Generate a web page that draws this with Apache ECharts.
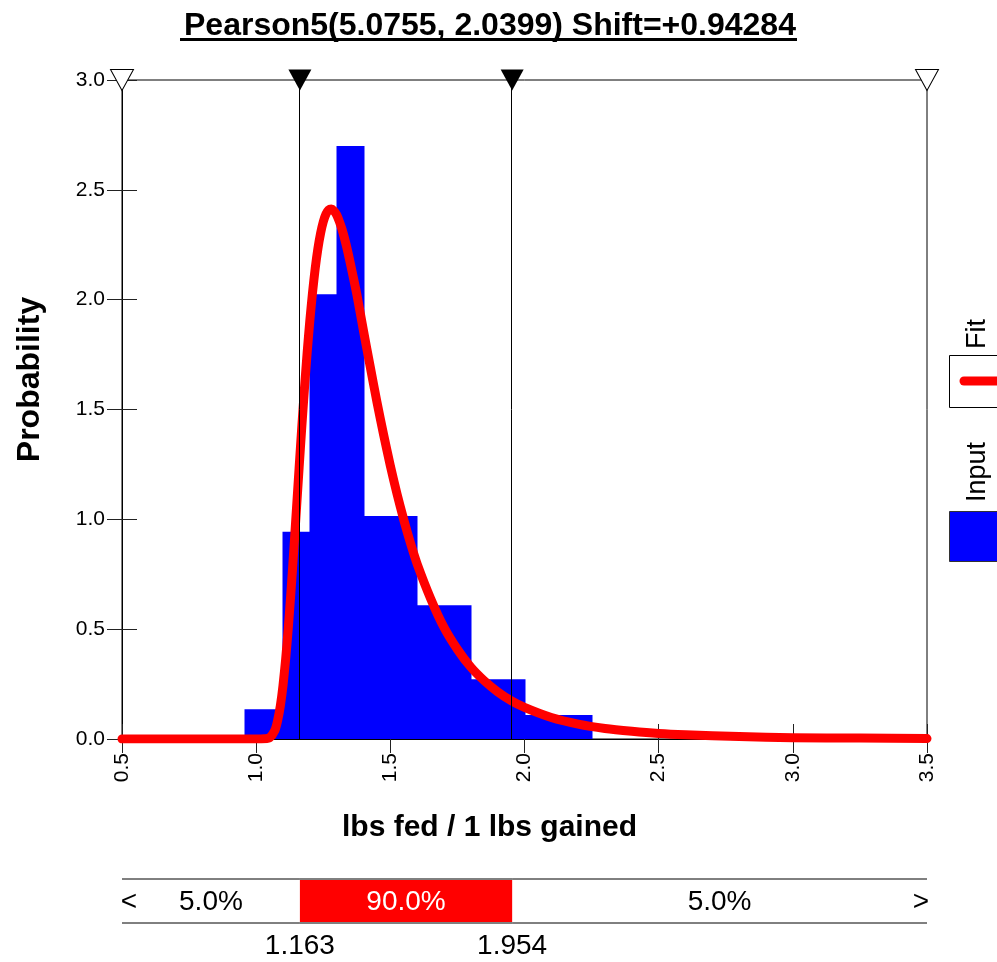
<!DOCTYPE html>
<html>
<head>
<meta charset="utf-8">
<title>Pearson5 fit</title>
<style>html,body{margin:0;padding:0;background:#fff}</style>
</head>
<body>
<div id="main" style="width:997px;height:962px"></div>
<script src="https://cdn.jsdelivr.net/npm/echarts@6/dist/echarts.min.js"></script>
<script>
var chart = echarts.init(document.getElementById('main'));

var FONT = "'Liberation Sans', Arial, sans-serif";

// histogram of the input data (variable width bins)
var binLeft   = [0.96, 1.10, 1.20, 1.30, 1.40, 1.60, 1.80, 2.00];
var binRight  = [1.10, 1.20, 1.30, 1.40, 1.60, 1.80, 2.00, 2.25];
var binHeight = [0.135, 0.944, 2.025, 2.699, 1.015, 0.609, 0.272, 0.109];

// fitted Pearson5 curve
var fitX = [0.5, 0.9, 1.0, 1.03, 1.05, 1.07, 1.08, 1.09, 1.10, 1.11, 1.12, 1.13, 1.14, 1.15, 1.16, 1.17, 1.18, 1.19,
            1.20, 1.21, 1.22, 1.23, 1.24, 1.25, 1.26, 1.27, 1.28, 1.29, 1.30, 1.31, 1.32, 1.335, 1.35, 1.375,
            1.40, 1.425, 1.45, 1.475, 1.50, 1.525, 1.55, 1.575, 1.60, 1.65, 1.70, 1.75, 1.80, 1.85, 1.90, 1.95,
            2.00, 2.10, 2.20, 2.30, 2.40, 2.50, 2.60, 2.80, 3.00, 3.25, 3.50];
var fitY = [0, 0, 0, 0.001, 0.006, 0.040, 0.084, 0.150, 0.244, 0.365, 0.510, 0.676, 0.856, 1.045, 1.234, 1.420, 1.596, 1.759,
            1.905, 2.032, 2.142, 2.232, 2.302, 2.354, 2.389, 2.408, 2.413, 2.404, 2.386, 2.356, 2.320, 2.252, 2.171, 2.025,
            1.858, 1.695, 1.535, 1.385, 1.244, 1.115, 0.998, 0.892, 0.797, 0.640, 0.508, 0.408, 0.327, 0.265, 0.215, 0.175,
            0.144, 0.098, 0.068, 0.048, 0.035, 0.025, 0.019, 0.011, 0.006, 0.004, 0.002];

// delimiters and the probability band under the chart
var markerX = [1.163, 1.954];
var axisMin = 0.5, axisMax = 3.5;
var bandPct = ['5.0%', '90.0%', '5.0%'];

var bins = binLeft.map(function (l, i) { return [l, binRight[i], binHeight[i]]; });
var fit = fitX.map(function (x, i) { return [x, fitY[i]]; });
var bandEdges = [axisMin, markerX[0], markerX[1], axisMax];
var band = bandPct.map(function (p, i) { return [bandEdges[i], bandEdges[i + 1]]; });

var openTri = {color: '#fff', borderColor: '#000', borderWidth: 1, opacity: 1};
var fullTri = {color: '#000', opacity: 1};
var triangles = [
    {value: [axisMin, 3], itemStyle: openTri},
    {value: [markerX[0], 3], itemStyle: fullTri},
    {value: [markerX[1], 3], itemStyle: fullTri},
    {value: [axisMax, 3], itemStyle: openTri}
];

function renderBin(params, api) {
    var p0 = api.coord([api.value(0), api.value(2)]);
    var p1 = api.coord([api.value(1), 0]);
    var x0 = Math.round(p0[0]), x1 = Math.round(p1[0]);
    return {
        type: 'rect',
        shape: {x: x0 - 0.5, y: p0[1], width: x1 - x0 + 1, height: p1[1] - p0[1]},
        style: {fill: '#0000ff'}
    };
}

function renderBand(params, api) {
    var idx = params.dataIndex;
    var p0 = api.coord([api.value(0), 1]);
    var p1 = api.coord([api.value(1), 0]);
    var w = p1[0] - p0[0], h = p1[1] - p0[1];
    var font = '28px ' + FONT;
    var kids = [];
    if (idx === 1) {
        kids.push({type: 'rect', shape: {x: p0[0], y: p0[1] + 1, width: w, height: h - 2}, style: {fill: '#ff0000'}});
    }
    kids.push({type: 'line', shape: {x1: p0[0], y1: p0[1], x2: p1[0], y2: p0[1]}, style: {stroke: '#000', lineWidth: 1}});
    kids.push({type: 'line', shape: {x1: p0[0], y1: p1[1], x2: p1[0], y2: p1[1]}, style: {stroke: '#000', lineWidth: 1}});
    kids.push({type: 'text', x: p0[0] + w / 2, y: p0[1] + h / 2 + 1,
        style: {text: bandPct[idx], fill: idx === 1 ? '#fff' : '#000', font: font, align: 'center', verticalAlign: 'middle'}});
    if (idx === 0) {
        kids.push({type: 'text', x: p0[0] + 7, y: p0[1] + h / 2 + 1,
            style: {text: '<', fill: '#000', font: font, align: 'center', verticalAlign: 'middle'}});
    }
    if (idx === 2) {
        kids.push({type: 'text', x: p1[0] - 6, y: p0[1] + h / 2 + 1,
            style: {text: '>', fill: '#000', font: font, align: 'center', verticalAlign: 'middle'}});
    }
    if (idx === 1) {
        kids.push({type: 'text', x: p0[0], y: p1[1] + 23,
            style: {text: api.value(0).toFixed(3), fill: '#000', font: font, align: 'center', verticalAlign: 'middle'}});
        kids.push({type: 'text', x: p1[0], y: p1[1] + 23,
            style: {text: api.value(1).toFixed(3), fill: '#000', font: font, align: 'center', verticalAlign: 'middle'}});
    }
    return {type: 'group', children: kids};
}

var option = {
    backgroundColor: '#fff',
    animation: false,
    title: {
        text: 'Pearson5(5.0755, 2.0399) Shift=+0.94284',
        left: 179, top: 5,
        textStyle: {fontFamily: FONT, fontWeight: 'bold', fontSize: 32, color: '#000'}
    },
    graphic: [
        {type: 'rect', shape: {x: 180, y: 38, width: 617, height: 3}, style: {fill: '#000'}},
        {type: 'text', x: 978, y: 334, rotation: Math.PI / 2,
         style: {text: 'Fit', font: '27px ' + FONT, fill: '#000', align: 'center', verticalAlign: 'middle'}},
        {type: 'rect', shape: {x: 949.5, y: 355.5, width: 60, height: 52}, style: {fill: '#fff', stroke: '#000', lineWidth: 1}},
        {type: 'line', shape: {x1: 964, y1: 381, x2: 1005, y2: 381}, style: {stroke: '#ff0000', lineWidth: 9, lineCap: 'round'}},
        {type: 'text', x: 978, y: 472, rotation: Math.PI / 2,
         style: {text: 'Input', font: '27px ' + FONT, fill: '#000', align: 'center', verticalAlign: 'middle'}},
        {type: 'rect', shape: {x: 949.5, y: 511.5, width: 60, height: 50}, style: {fill: '#0000ff', stroke: '#333', lineWidth: 1}}
    ],
    grid: [
        {left: 122, top: 80, width: 805, height: 659, show: true, borderColor: '#000', borderWidth: 1, backgroundColor: '#fff'},
        {left: 122, top: 879, width: 805, height: 44}
    ],
    xAxis: [
        {type: 'value', gridIndex: 0, min: axisMin, max: axisMax, interval: 0.5,
         name: 'lbs fed / 1 lbs gained', nameLocation: 'middle', nameGap: 74,
         nameTextStyle: {fontFamily: FONT, fontWeight: 'bold', fontSize: 30, color: '#000', padding: [0, 70, 0, 0]},
         axisLine: {lineStyle: {color: '#000', width: 1}},
         axisTick: {length: 14, lineStyle: {color: '#222'}},
         axisLabel: {rotate: 90, margin: 14, fontFamily: FONT, fontSize: 21, color: '#000',
                     formatter: function (v) { return v.toFixed(1); }},
         splitLine: {show: false}},
        {type: 'value', gridIndex: 0, min: axisMin, max: axisMax, interval: 0.5, position: 'bottom',
         axisLine: {show: false}, axisTick: {inside: true, length: 15, lineStyle: {color: '#222'}},
         axisLabel: {show: false}, splitLine: {show: false}},
        {type: 'value', gridIndex: 1, min: axisMin, max: axisMax, show: false}
    ],
    yAxis: [
        {type: 'value', gridIndex: 0, min: 0, max: 3, interval: 0.5,
         name: 'Probability', nameLocation: 'middle', nameGap: 76, nameRotate: 90,
         nameTextStyle: {fontFamily: FONT, fontWeight: 'bold', fontSize: 32, color: '#000', padding: [0, 0, 0, 60]},
         axisLine: {show: true, lineStyle: {color: '#000', width: 1}},
         axisTick: {show: true, length: 15, lineStyle: {color: '#222'}},
         axisLabel: {margin: 17, fontFamily: FONT, fontSize: 21, color: '#000',
                     formatter: function (v) { return v.toFixed(1); }},
         splitLine: {show: false}},
        {type: 'value', gridIndex: 0, min: 0, max: 3, interval: 0.5, position: 'left',
         axisLine: {show: false}, axisTick: {show: true, inside: true, length: 15, lineStyle: {color: '#222'}},
         axisLabel: {show: false}, splitLine: {show: false}},
        {type: 'value', gridIndex: 1, min: 0, max: 1, show: false}
    ],
    series: [
        {name: 'Input', type: 'custom', xAxisIndex: 0, yAxisIndex: 0, renderItem: renderBin,
         encode: {x: [0, 1], y: 2}, data: bins, z: 2},
        {name: 'Fit', type: 'line', xAxisIndex: 0, yAxisIndex: 0, data: fit, showSymbol: false,
         smooth: 0.2,
         lineStyle: {color: '#ff0000', width: 9, cap: 'round', join: 'round'}, itemStyle: {color: '#ff0000'}, z: 3},
        {name: 'Delimiters', type: 'scatter', xAxisIndex: 0, yAxisIndex: 0, data: triangles,
         symbol: 'triangle', symbolRotate: 180, symbolSize: [23, 21], clip: false, z: 5,
         markLine: {silent: true, symbol: 'none', label: {show: false},
                    lineStyle: {color: '#000', width: 1, type: 'solid', opacity: 1},
                    data: markerX.map(function (v) { return {xAxis: v}; })}},
        {name: 'Band', type: 'custom', xAxisIndex: 2, yAxisIndex: 2, renderItem: renderBand,
         encode: {x: [0, 1]}, data: band, clip: false}
    ]
};

chart.setOption(option);
</script>
</body>
</html>
